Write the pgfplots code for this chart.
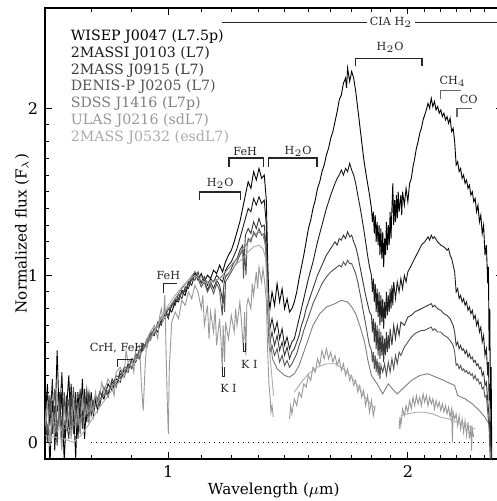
\documentclass[border=0pt]{standalone}
\usepackage{fontspec}
\setmainfont{DejaVu Serif}
\usepackage{pgfplots}
\pgfplotsset{compat=1.18}
\usepackage{pgfplotstable}
\newcommand{\fs}[1]{\fontsize{#1}{#1}\selectfont}
\definecolor{c1}{HTML}{000000}
\definecolor{c2}{HTML}{1C1C1C}
\definecolor{c3}{HTML}{383838}
\definecolor{c4}{HTML}{555555}
\definecolor{c5}{HTML}{7E7E7E}
\definecolor{c6}{HTML}{999999}
\definecolor{c7}{HTML}{ABABAB}
\tikzset{
  brk/.style={draw=black!85, line width=0.6pt},
  gbrk/.style={draw=black!60, line width=0.6pt},
  ann/.style={font=\fs{5.6}, inner sep=0.5pt, text=black!85},
  leg/.style={anchor=west, inner sep=0pt, font=\fs{7.1}},
}

\pgfplotstableread[row sep=\\]{x y\\0.700 0.12\\0.705 0.35\\0.710 -0.15\\0.715 0.25\\0.720 0.05\\0.725 0.55\\0.730 0.10\\0.735 0.30\\0.740 -0.12\\0.745 0.20\\0.750 0.40\\0.755 0.05\\0.760 0.25\\0.765 -0.10\\0.770 0.30\\0.775 0.10\\0.780 0.38\\0.785 0.02\\0.790 0.28\\0.795 0.12\\0.800 0.30\\0.805 0.16\\0.810 0.25\\0.815 0.19\\0.820 0.30\\0.830 0.26\\0.840 0.35\\0.850 0.31\\0.860 0.38\\0.870 0.36\\0.880 0.44\\0.890 0.42\\0.900 0.50\\0.910 0.48\\0.920 0.55\\0.930 0.56\\0.940 0.60\\0.950 0.63\\0.960 0.68\\0.970 0.66\\0.980 0.74\\0.990 0.76\\1.000 0.80\\1.010 0.78\\1.020 0.84\\1.030 0.86\\1.040 0.90\\1.050 0.88\\1.060 0.95\\1.070 0.98\\1.080 1.02\\1.090 0.97\\1.100 1.01\\1.110 0.96\\1.120 1.00\\1.130 0.98\\1.140 1.03\\1.150 1.01\\1.160 1.06\\1.170 1.02\\1.180 1.08\\1.190 1.12\\1.200 1.15\\1.210 1.20\\1.220 1.26\\1.230 1.32\\1.240 1.40\\1.250 1.48\\1.260 1.56\\1.270 1.52\\1.280 1.62\\1.290 1.57\\1.300 1.64\\1.310 1.58\\1.320 1.60\\1.328 1.45\\1.333 1.10\\1.338 0.85\\1.342 0.80\\1.350 0.90\\1.360 0.82\\1.370 0.95\\1.380 0.84\\1.390 0.92\\1.400 0.80\\1.410 0.86\\1.420 0.78\\1.430 0.80\\1.440 0.84\\1.450 0.90\\1.460 0.98\\1.470 1.05\\1.480 1.12\\1.490 1.20\\1.500 1.28\\1.510 1.33\\1.520 1.40\\1.530 1.45\\1.540 1.52\\1.550 1.56\\1.560 1.62\\1.570 1.66\\1.580 1.72\\1.590 1.76\\1.600 1.82\\1.610 1.86\\1.620 1.92\\1.630 1.98\\1.640 2.05\\1.650 2.08\\1.660 2.15\\1.670 2.18\\1.675 2.12\\1.680 2.24\\1.690 2.16\\1.700 2.22\\1.710 2.18\\1.720 2.10\\1.730 2.00\\1.740 1.90\\1.750 1.80\\1.760 1.70\\1.770 1.62\\1.780 1.55\\1.790 1.48\\1.800 1.40\\1.805 1.32\\1.810 1.38\\1.815 1.25\\1.820 1.36\\1.825 1.20\\1.830 1.32\\1.835 1.18\\1.840 1.30\\1.845 1.12\\1.850 1.28\\1.855 1.10\\1.860 1.26\\1.865 1.05\\1.870 1.22\\1.875 1.12\\1.880 1.32\\1.885 1.15\\1.890 1.30\\1.895 1.18\\1.900 1.38\\1.905 1.22\\1.910 1.40\\1.915 1.55\\1.920 1.30\\1.925 1.45\\1.930 1.32\\1.935 1.48\\1.940 1.34\\1.945 1.50\\1.950 1.38\\1.960 1.48\\1.965 1.36\\1.970 1.50\\1.980 1.42\\1.990 1.52\\2.000 1.44\\2.010 1.55\\2.020 1.58\\2.030 1.65\\2.040 1.70\\2.050 1.76\\2.060 1.80\\2.070 1.85\\2.080 1.88\\2.090 1.93\\2.100 1.96\\2.110 1.99\\2.120 2.03\\2.130 2.00\\2.140 2.06\\2.150 2.01\\2.160 2.04\\2.170 1.99\\2.180 2.01\\2.190 1.97\\2.200 1.99\\2.210 1.95\\2.220 1.97\\2.230 1.93\\2.240 1.95\\2.250 1.91\\2.260 1.94\\2.270 1.86\\2.280 1.88\\2.290 1.80\\2.300 1.66\\2.310 1.68\\2.320 1.62\\2.330 1.64\\2.340 1.58\\2.350 1.60\\2.360 1.55\\2.370 1.57\\2.380 1.52\\2.390 1.54\\2.400 1.48\\2.410 1.50\\2.420 1.44\\2.430 1.46\\2.440 1.38\\2.450 1.42\\2.460 1.32\\2.470 1.36\\2.480 1.25\\2.490 1.30\\2.500 1.12\\2.510 1.18\\2.520 0.95\\2.525 1.05\\2.530 0.55\\2.535 0.80\\2.540 0.20\\2.545 0.45\\2.550 -0.15\\}\tone

\pgfplotstableread[row sep=\\]{x y\\0.700 0.05\\0.705 0.30\\0.710 0.10\\0.715 0.38\\0.720 -0.05\\0.725 0.22\\0.730 0.15\\0.735 0.42\\0.740 0.02\\0.745 0.28\\0.750 0.08\\0.755 0.35\\0.760 0.12\\0.765 0.30\\0.770 0.02\\0.775 0.25\\0.780 0.15\\0.785 0.32\\0.790 0.12\\0.795 0.28\\0.800 0.20\\0.810 0.28\\0.820 0.24\\0.830 0.32\\0.840 0.29\\0.850 0.36\\0.860 0.34\\0.870 0.41\\0.880 0.39\\0.890 0.46\\0.900 0.45\\0.910 0.52\\0.920 0.50\\0.930 0.58\\0.940 0.59\\0.950 0.65\\0.960 0.64\\0.970 0.71\\0.980 0.72\\0.990 0.78\\1.000 0.76\\1.010 0.82\\1.020 0.85\\1.030 0.84\\1.040 0.91\\1.050 0.90\\1.060 0.96\\1.070 0.94\\1.080 1.01\\1.090 0.99\\1.100 0.96\\1.110 0.99\\1.120 0.94\\1.130 0.98\\1.140 0.96\\1.150 1.00\\1.160 0.98\\1.170 0.96\\1.180 1.03\\1.190 1.06\\1.200 1.08\\1.210 1.12\\1.220 1.16\\1.230 1.22\\1.240 1.28\\1.250 1.34\\1.260 1.40\\1.270 1.38\\1.280 1.46\\1.290 1.42\\1.300 1.47\\1.310 1.43\\1.320 1.45\\1.328 1.30\\1.333 0.95\\1.338 0.75\\1.342 0.68\\1.350 0.74\\1.360 0.66\\1.370 0.72\\1.380 0.62\\1.390 0.68\\1.400 0.58\\1.410 0.63\\1.420 0.56\\1.430 0.60\\1.440 0.62\\1.450 0.68\\1.460 0.74\\1.470 0.80\\1.480 0.86\\1.490 0.92\\1.500 0.98\\1.520 1.08\\1.540 1.20\\1.560 1.30\\1.580 1.40\\1.600 1.48\\1.620 1.55\\1.630 1.58\\1.640 1.60\\1.650 1.63\\1.660 1.60\\1.670 1.64\\1.680 1.62\\1.690 1.67\\1.700 1.63\\1.710 1.60\\1.720 1.55\\1.730 1.48\\1.740 1.42\\1.750 1.35\\1.760 1.28\\1.770 1.20\\1.780 1.12\\1.790 1.05\\1.800 1.00\\1.805 0.90\\1.810 0.98\\1.815 0.84\\1.820 0.95\\1.825 0.78\\1.830 0.92\\1.835 0.75\\1.840 0.90\\1.845 0.70\\1.850 0.88\\1.855 0.72\\1.860 0.86\\1.865 0.68\\1.870 0.84\\1.875 0.74\\1.880 0.90\\1.885 0.76\\1.890 0.88\\1.895 0.78\\1.900 0.92\\1.905 0.80\\1.910 0.94\\1.915 0.82\\1.920 0.96\\1.930 0.86\\1.940 0.96\\1.950 0.90\\1.960 0.98\\1.970 0.92\\1.980 1.00\\1.990 0.96\\2.000 1.02\\2.020 1.06\\2.040 1.10\\2.060 1.14\\2.080 1.18\\2.100 1.20\\2.120 1.23\\2.130 1.21\\2.140 1.24\\2.150 1.22\\2.160 1.23\\2.180 1.20\\2.200 1.18\\2.220 1.17\\2.240 1.15\\2.250 1.16\\2.260 1.12\\2.270 1.10\\2.280 1.06\\2.290 1.02\\2.300 0.90\\2.310 0.92\\2.320 0.86\\2.330 0.88\\2.340 0.84\\2.350 0.86\\2.360 0.82\\2.370 0.84\\2.380 0.79\\2.390 0.81\\2.400 0.77\\2.410 0.79\\2.420 0.74\\2.430 0.76\\2.440 0.70\\2.450 0.73\\2.460 0.66\\2.470 0.69\\2.480 0.60\\2.490 0.64\\2.500 0.52\\2.510 0.56\\2.520 0.40\\2.525 0.48\\2.530 0.25\\2.535 0.35\\2.540 0.05\\2.550 -0.15\\}\ttwo

\pgfplotstableread[row sep=\\]{x y\\0.700 0.15\\0.705 0.00\\0.710 0.28\\0.715 0.05\\0.720 0.22\\0.725 -0.02\\0.730 0.30\\0.735 0.08\\0.740 0.25\\0.745 0.12\\0.750 0.02\\0.755 0.28\\0.760 0.05\\0.765 0.22\\0.770 0.15\\0.775 0.32\\0.780 0.08\\0.785 0.26\\0.790 0.18\\0.795 0.30\\0.800 0.16\\0.810 0.27\\0.820 0.22\\0.830 0.33\\0.840 0.27\\0.850 0.38\\0.860 0.33\\0.870 0.43\\0.880 0.40\\0.890 0.47\\0.900 0.44\\0.910 0.53\\0.920 0.51\\0.930 0.59\\0.940 0.57\\0.950 0.66\\0.960 0.64\\0.970 0.72\\0.980 0.70\\0.990 0.79\\1.000 0.74\\1.010 0.83\\1.020 0.82\\1.030 0.89\\1.040 0.86\\1.050 0.93\\1.060 0.92\\1.070 0.98\\1.080 0.97\\1.090 1.02\\1.100 0.95\\1.110 0.97\\1.120 0.91\\1.130 0.96\\1.140 0.92\\1.150 0.97\\1.160 0.94\\1.170 0.85\\1.175 0.95\\1.180 0.99\\1.190 1.01\\1.200 1.04\\1.210 1.08\\1.220 1.10\\1.230 1.15\\1.240 1.18\\1.245 1.08\\1.250 1.24\\1.260 1.28\\1.270 1.25\\1.280 1.32\\1.290 1.28\\1.300 1.34\\1.310 1.29\\1.320 1.30\\1.328 1.15\\1.333 0.85\\1.338 0.66\\1.342 0.60\\1.350 0.66\\1.360 0.58\\1.370 0.64\\1.380 0.55\\1.390 0.60\\1.400 0.52\\1.410 0.57\\1.420 0.50\\1.430 0.54\\1.440 0.56\\1.450 0.60\\1.460 0.64\\1.470 0.70\\1.480 0.74\\1.490 0.80\\1.500 0.84\\1.520 0.92\\1.540 1.00\\1.560 1.06\\1.580 1.12\\1.600 1.16\\1.620 1.20\\1.630 1.18\\1.640 1.22\\1.650 1.21\\1.660 1.24\\1.670 1.22\\1.680 1.26\\1.690 1.23\\1.700 1.24\\1.710 1.20\\1.720 1.17\\1.730 1.12\\1.740 1.06\\1.750 1.00\\1.760 0.94\\1.770 0.88\\1.780 0.83\\1.790 0.78\\1.800 0.76\\1.805 0.66\\1.810 0.74\\1.815 0.60\\1.820 0.72\\1.825 0.56\\1.830 0.70\\1.835 0.52\\1.840 0.68\\1.845 0.50\\1.850 0.66\\1.855 0.52\\1.860 0.64\\1.865 0.48\\1.870 0.62\\1.875 0.52\\1.880 0.66\\1.885 0.54\\1.890 0.64\\1.895 0.56\\1.900 0.68\\1.910 0.58\\1.920 0.70\\1.930 0.62\\1.940 0.70\\1.950 0.64\\1.960 0.72\\1.980 0.70\\2.000 0.75\\2.020 0.76\\2.040 0.78\\2.060 0.79\\2.080 0.80\\2.100 0.81\\2.120 0.82\\2.140 0.83\\2.150 0.81\\2.160 0.82\\2.180 0.80\\2.200 0.79\\2.220 0.77\\2.240 0.76\\2.260 0.74\\2.280 0.70\\2.290 0.66\\2.300 0.58\\2.310 0.60\\2.320 0.56\\2.330 0.58\\2.340 0.55\\2.350 0.56\\2.360 0.53\\2.370 0.55\\2.380 0.51\\2.390 0.53\\2.400 0.50\\2.410 0.51\\2.420 0.48\\2.430 0.49\\2.440 0.46\\2.450 0.47\\2.460 0.44\\2.470 0.45\\2.480 0.40\\2.490 0.42\\2.500 0.34\\2.510 0.36\\2.520 0.25\\2.530 0.15\\2.540 0.00\\2.550 -0.15\\}\tthree

\pgfplotstableread[row sep=\\]{x y\\0.700 0.20\\0.705 0.05\\0.710 0.25\\0.715 0.10\\0.720 0.32\\0.725 0.08\\0.730 0.20\\0.735 0.00\\0.740 0.30\\0.745 0.14\\0.750 0.26\\0.755 0.10\\0.760 0.33\\0.765 0.12\\0.770 0.24\\0.775 0.05\\0.780 0.28\\0.785 0.18\\0.790 0.32\\0.795 0.20\\0.800 0.26\\0.810 0.22\\0.820 0.30\\0.830 0.28\\0.840 0.34\\0.850 0.33\\0.860 0.40\\0.870 0.38\\0.880 0.45\\0.890 0.44\\0.900 0.50\\0.910 0.49\\0.920 0.56\\0.930 0.55\\0.940 0.62\\0.950 0.61\\0.960 0.68\\0.970 0.69\\0.980 0.75\\0.990 0.74\\1.000 0.80\\1.010 0.81\\1.020 0.86\\1.030 0.85\\1.040 0.90\\1.050 0.91\\1.060 0.95\\1.070 0.97\\1.080 1.00\\1.090 0.98\\1.100 0.93\\1.110 0.96\\1.120 0.90\\1.130 0.94\\1.140 0.89\\1.150 0.95\\1.160 0.91\\1.169 0.76\\1.173 0.92\\1.177 0.78\\1.180 0.96\\1.190 0.99\\1.200 1.02\\1.210 1.05\\1.220 1.08\\1.230 1.12\\1.240 1.15\\1.243 0.98\\1.247 1.14\\1.252 1.00\\1.256 1.18\\1.260 1.22\\1.270 1.20\\1.280 1.26\\1.290 1.23\\1.300 1.28\\1.310 1.24\\1.320 1.25\\1.328 1.10\\1.333 0.80\\1.338 0.60\\1.342 0.54\\1.350 0.58\\1.360 0.52\\1.370 0.56\\1.380 0.48\\1.390 0.52\\1.400 0.46\\1.410 0.49\\1.420 0.45\\1.430 0.47\\1.440 0.50\\1.450 0.53\\1.460 0.58\\1.470 0.62\\1.480 0.67\\1.490 0.71\\1.500 0.75\\1.520 0.83\\1.540 0.89\\1.560 0.95\\1.580 0.99\\1.600 1.02\\1.620 1.04\\1.640 1.06\\1.650 1.05\\1.660 1.08\\1.670 1.06\\1.680 1.09\\1.690 1.07\\1.700 1.07\\1.710 1.04\\1.720 1.01\\1.730 0.96\\1.740 0.90\\1.750 0.84\\1.760 0.77\\1.770 0.71\\1.780 0.64\\1.790 0.58\\1.800 0.55\\1.805 0.48\\1.810 0.54\\1.815 0.44\\1.820 0.52\\1.825 0.42\\1.830 0.50\\1.835 0.40\\1.840 0.48\\1.845 0.38\\1.850 0.46\\1.860 0.42\\1.870 0.47\\1.880 0.40\\1.890 0.48\\1.900 0.42\\1.910 0.50\\1.920 0.44\\1.930 0.52\\1.940 0.47\\1.950 0.54\\1.960 0.52\\1.980 0.57\\2.000 0.60\\2.020 0.63\\2.040 0.65\\2.060 0.66\\2.080 0.67\\2.100 0.67\\2.120 0.68\\2.140 0.69\\2.150 0.67\\2.160 0.68\\2.180 0.66\\2.200 0.66\\2.220 0.64\\2.240 0.63\\2.260 0.61\\2.280 0.58\\2.290 0.54\\2.300 0.46\\2.310 0.47\\2.320 0.44\\2.330 0.46\\2.340 0.43\\2.350 0.44\\2.360 0.42\\2.370 0.43\\2.380 0.41\\2.390 0.42\\2.400 0.40\\2.410 0.41\\2.420 0.38\\2.430 0.40\\2.440 0.37\\2.450 0.38\\2.460 0.35\\2.470 0.36\\2.480 0.32\\2.490 0.33\\2.500 0.27\\2.510 0.28\\2.520 0.18\\2.530 0.08\\2.540 -0.15\\}\tfour

\pgfplotstableread[row sep=\\]{x y\\0.700 0.10\\0.720 0.12\\0.740 0.08\\0.760 0.10\\0.780 0.15\\0.800 0.20\\0.820 0.25\\0.840 0.31\\0.860 0.36\\0.880 0.42\\0.900 0.48\\0.920 0.54\\0.940 0.60\\0.960 0.67\\0.980 0.75\\1.000 0.80\\1.020 0.86\\1.040 0.92\\1.060 0.97\\1.080 1.02\\1.100 0.99\\1.120 0.96\\1.140 0.97\\1.160 0.98\\1.180 1.02\\1.200 1.06\\1.220 1.10\\1.240 1.16\\1.260 1.20\\1.280 1.24\\1.300 1.26\\1.315 1.24\\1.325 1.18\\1.335 0.85\\1.343 0.62\\1.352 0.50\\1.370 0.44\\1.400 0.40\\1.420 0.39\\1.440 0.41\\1.460 0.46\\1.480 0.54\\1.500 0.62\\1.520 0.70\\1.550 0.77\\1.580 0.81\\1.620 0.83\\1.650 0.85\\1.680 0.84\\1.700 0.81\\1.720 0.77\\1.740 0.70\\1.760 0.62\\1.770 0.57\\1.780 0.50\\1.800 0.40\\1.830 0.35\\1.860 0.29\\1.890 0.35\\1.920 0.31\\1.940 0.29\\1.980 0.33\\2.020 0.37\\2.070 0.40\\2.120 0.41\\2.170 0.39\\2.220 0.37\\2.290 0.34\\2.310 0.28\\2.360 0.26\\2.410 0.23\\2.460 0.19\\2.500 0.15\\2.520 0.12\\}\tfive

\pgfplotstableread[row sep=\\]{x y\\0.700 0.10\\0.705 0.25\\0.710 -0.02\\0.715 0.18\\0.720 0.05\\0.725 0.30\\0.730 0.12\\0.735 -0.05\\0.740 0.22\\0.745 0.08\\0.750 0.18\\0.755 0.02\\0.760 0.25\\0.765 0.10\\0.770 0.20\\0.775 0.06\\0.780 0.28\\0.785 0.15\\0.790 0.22\\0.795 0.12\\0.800 0.24\\0.805 0.18\\0.810 0.30\\0.815 0.22\\0.820 0.28\\0.825 0.36\\0.830 0.30\\0.840 0.38\\0.850 0.33\\0.855 0.28\\0.860 0.42\\0.870 0.45\\0.880 0.40\\0.885 0.55\\0.890 0.48\\0.900 0.50\\0.905 0.42\\0.910 0.56\\0.920 0.58\\0.925 0.35\\0.930 0.19\\0.935 0.45\\0.940 0.62\\0.950 0.66\\0.960 0.70\\0.970 0.62\\0.975 0.75\\0.980 0.80\\0.985 0.72\\0.990 0.88\\0.993 0.60\\0.997 0.25\\1.000 0.05\\1.003 0.45\\1.010 0.72\\1.020 0.78\\1.030 0.74\\1.040 0.85\\1.050 0.82\\1.060 0.90\\1.070 0.86\\1.080 0.94\\1.090 0.90\\1.100 0.80\\1.105 0.88\\1.110 0.70\\1.120 0.82\\1.125 0.62\\1.130 0.78\\1.140 0.66\\1.145 0.80\\1.150 0.58\\1.160 0.74\\1.165 0.60\\1.169 0.43\\1.172 0.70\\1.177 0.48\\1.180 0.72\\1.190 0.62\\1.200 0.76\\1.210 0.66\\1.215 0.80\\1.220 0.70\\1.230 0.84\\1.235 0.74\\1.243 0.55\\1.247 0.78\\1.252 0.52\\1.255 0.82\\1.260 0.86\\1.270 0.80\\1.275 0.95\\1.280 0.88\\1.290 1.02\\1.295 0.92\\1.300 1.05\\1.310 0.96\\1.315 1.04\\1.320 0.98\\1.328 0.85\\1.333 0.55\\1.338 0.35\\1.342 0.28\\1.346 0.18\\1.350 0.22\\1.355 0.15\\1.390 nan\\1.420 0.14\\1.425 0.22\\1.430 0.17\\1.440 0.26\\1.450 0.22\\1.460 0.30\\1.470 0.27\\1.480 0.35\\1.490 0.33\\1.500 0.40\\1.510 0.37\\1.520 0.45\\1.530 0.42\\1.540 0.50\\1.550 0.46\\1.560 0.55\\1.570 0.50\\1.580 0.56\\1.590 0.50\\1.600 0.54\\1.610 0.48\\1.620 0.52\\1.630 0.46\\1.640 0.50\\1.650 0.43\\1.660 0.47\\1.670 0.40\\1.680 0.44\\1.690 0.37\\1.700 0.40\\1.710 0.34\\1.720 0.37\\1.730 0.30\\1.740 0.34\\1.750 0.27\\1.760 0.31\\1.770 0.22\\1.780 0.28\\1.790 0.18\\1.800 0.25\\1.810 0.16\\1.820 0.22\\1.880 nan\\1.950 0.08\\1.955 0.15\\1.960 0.10\\1.970 0.20\\1.980 0.16\\1.990 0.22\\2.000 0.18\\2.010 0.25\\2.020 0.20\\2.030 0.27\\2.040 0.22\\2.050 0.28\\2.060 0.23\\2.070 0.27\\2.080 0.22\\2.090 0.29\\2.100 0.24\\2.110 0.28\\2.120 0.22\\2.130 0.27\\2.140 0.23\\2.150 0.26\\2.160 0.20\\2.170 0.25\\2.180 0.21\\2.190 0.24\\2.200 0.19\\2.210 0.23\\2.220 0.18\\2.230 0.22\\2.240 0.17\\2.250 0.21\\2.260 0.15\\2.270 0.20\\2.275 0.00\\2.280 0.18\\2.290 0.14\\2.300 0.17\\2.310 0.10\\2.320 0.16\\2.330 0.08\\2.340 0.14\\2.350 0.06\\2.360 0.13\\2.370 0.04\\2.380 0.12\\2.390 0.02\\2.400 0.10\\2.405 -0.05\\2.410 0.08\\2.420 0.03\\}\tsix

\pgfplotstableread[row sep=\\]{x y\\0.700 0.04\\0.720 0.03\\0.740 0.02\\0.760 0.00\\0.780 0.05\\0.800 0.13\\0.820 0.21\\0.840 0.28\\0.860 0.34\\0.880 0.40\\0.900 0.46\\0.920 0.52\\0.940 0.58\\0.960 0.66\\0.980 0.74\\1.000 0.82\\1.020 0.88\\1.040 0.93\\1.060 0.97\\1.080 1.00\\1.100 0.97\\1.120 0.95\\1.140 0.96\\1.160 0.98\\1.180 1.00\\1.200 1.03\\1.220 1.07\\1.240 1.10\\1.260 1.14\\1.280 1.17\\1.300 1.18\\1.315 1.16\\1.325 1.10\\1.335 0.80\\1.343 0.50\\1.352 0.35\\1.356 0.28\\1.390 nan\\1.440 0.30\\1.470 0.36\\1.500 0.41\\1.540 0.45\\1.580 0.47\\1.620 0.47\\1.660 0.44\\1.700 0.39\\1.740 0.32\\1.780 0.25\\1.820 0.20\\1.880 nan\\1.960 0.16\\2.000 0.17\\2.050 0.18\\2.100 0.18\\2.150 0.17\\2.200 0.15\\2.250 0.14\\2.300 0.12\\2.350 0.11\\2.400 0.09\\2.430 0.08\\}\tseven

\begin{document}
\begin{tikzpicture}
\begin{axis}[name=ax, scale only axis, width=228.75pt, height=225.5pt,
  xmode=log, xmin=0.7, xmax=2.63, ymin=-0.1, ymax=2.6,
  xtick={1,2}, xticklabels={1,2},
  minor xtick={0.8,0.9,1.1,1.2,1.3,1.4,1.5,1.6,1.7,1.8,1.9,2.1,2.2,2.3,2.4,2.5,2.6},
  ytick={0,1,2}, yticklabels={0,1,2}, minor y tick num=9,
  major tick length=3.5pt, minor tick length=1.8pt,
  tick style={black, line width=0.5pt},
  axis line style={line width=0.7pt},
  tick label style={font=\fs{8}},
  /pgf/number format/assume math mode=true,
  xlabel={Wavelength ($\mu$m)}, ylabel={Normalized flux (F$_\lambda$)},
  label style={font=\fs{7.6}},
  xlabel style={at={(axis description cs:0.5,-0.0687)},anchor=center},
  ylabel style={at={(axis description cs:-0.0503,0.5)},anchor=center},
  every axis plot/.append style={line width=0.45pt},
  unbounded coords=jump,
]
\addplot[black, dotted, line width=0.6pt] coordinates {(0.8,0) (2.5,0)};
\addplot[c1] table {\tone};
\addplot[c2] table {\ttwo};
\addplot[c3] table {\tthree};
\addplot[c4] table {\tfour};
\addplot[c5] table {\tfive};
\addplot[c6] table {\tsix};
\addplot[c7] table {\tseven};

\node[leg, text=c1] at (axis cs:0.7535,2.427) {WISEP J0047 (L7.5p)};
\node[leg, text=c2] at (axis cs:0.7535,2.327) {2MASSI J0103 (L7)};
\node[leg, text=c3] at (axis cs:0.7535,2.227) {2MASS J0915 (L7)};
\node[leg, text=c4] at (axis cs:0.7535,2.127) {DENIS-P J0205 (L7)};
\node[leg, text=c5] at (axis cs:0.7535,2.027) {SDSS J1416 (L7p)};
\node[leg, text=c6] at (axis cs:0.7535,1.927) {ULAS J0216 (sdL7)};
\node[leg, text=c7] at (axis cs:0.7535,1.827) {2MASS J0532 (esdL7)};

\draw[brk] (axis cs:0.863,0.449) |- (axis cs:0.904,0.497);
\node[ann] at (axis cs:0.862,0.563) {CrH, FeH};
\draw[brk] (axis cs:0.986,0.892) |- (axis cs:1.026,0.952);
\node[ann] at (axis cs:1.0,1.0) {FeH};
\draw[brk] (axis cs:1.094,1.449) |- (axis cs:1.231,1.499) -- (axis cs:1.231,1.449);
\node[ann] at (axis cs:1.162,1.551) {H$_2$O};
\draw[brk] (axis cs:1.192,1.649) |- (axis cs:1.316,1.702) -- (axis cs:1.316,1.649);
\node[ann] at (axis cs:1.249,1.743) {FeH};
\draw[brk] (axis cs:1.335,1.649) |- (axis cs:1.538,1.702) -- (axis cs:1.538,1.649);
\node[ann] at (axis cs:1.456,1.743) {H$_2$O};
\draw[brk] (axis cs:1.717,2.251) |- (axis cs:2.083,2.299) -- (axis cs:2.083,2.251);
\node[ann] at (axis cs:1.90,2.365) {H$_2$O};
\draw[gbrk] (axis cs:2.20,2.054) |- (axis cs:2.33,2.104);
\node[ann] at (axis cs:2.277,2.162) {CH$_4$};
\draw[gbrk] (axis cs:2.305,1.946) |- (axis cs:2.41,2.0);
\node[ann] at (axis cs:2.385,2.054) {CO};
\draw[brk] (axis cs:1.169,2.515) -- (axis cs:2.63,2.515);
\node[ann, fill=white, inner sep=1.5pt] at (axis cs:1.905,2.515) {CIA H$_2$};
\draw[brk, line width=0.5pt] (axis cs:1.169,0.45) |- (axis cs:1.177,0.395) -- (axis cs:1.177,0.45);
\node[ann] at (axis cs:1.19,0.323) {K I};
\draw[brk, line width=0.5pt] (axis cs:1.243,0.593) |- (axis cs:1.252,0.545) -- (axis cs:1.252,0.593);
\node[ann] at (axis cs:1.264,0.467) {K I};
\end{axis}
\pgfresetboundingbox
\path ([xshift=-22.5pt,yshift=-21pt]ax.south west) rectangle ([xshift=-3.25pt,yshift=4pt]ax.north east);
\end{tikzpicture}
\end{document}
